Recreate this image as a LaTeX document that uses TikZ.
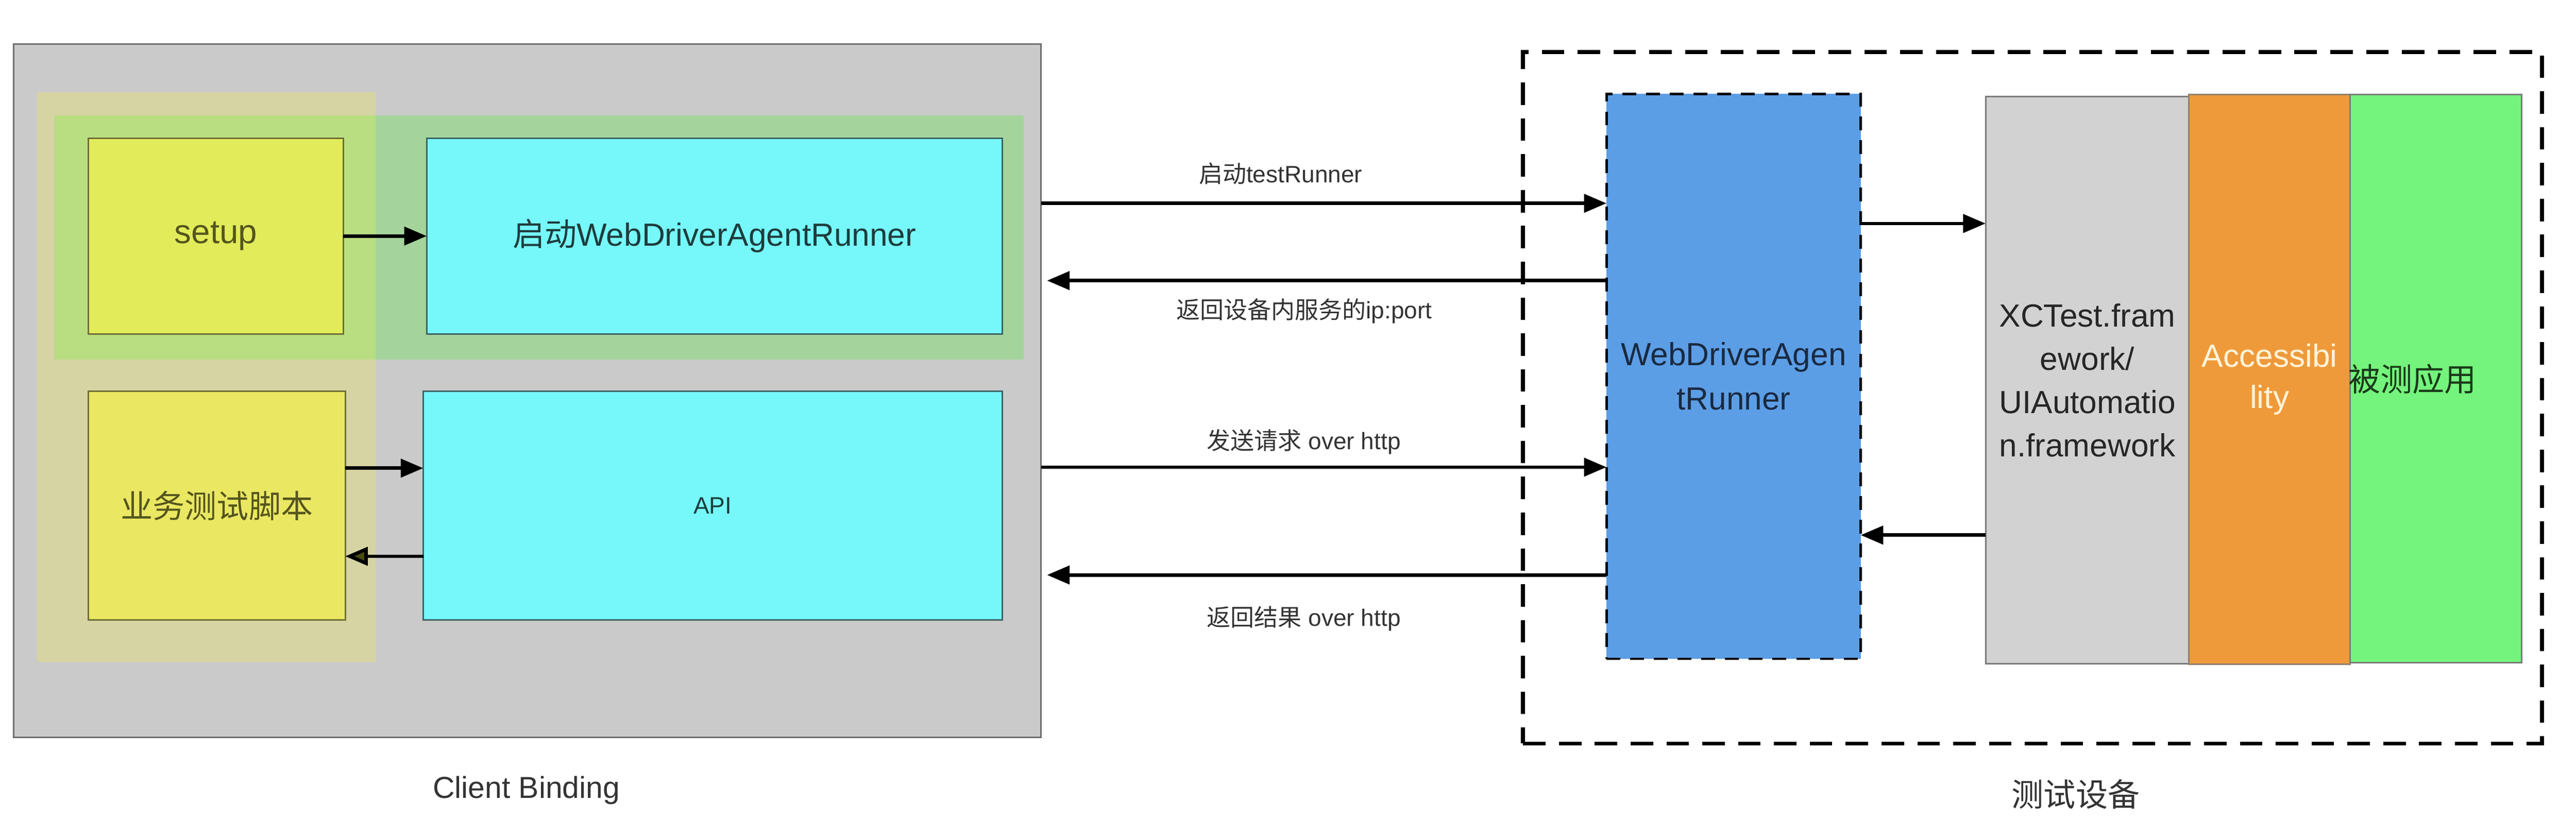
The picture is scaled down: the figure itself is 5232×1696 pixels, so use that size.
\documentclass[tikz,border=0pt]{standalone}
\usepackage{fontspec}
\setmainfont{Liberation Sans}
\newfontfamily\cjk{Noto Sans CJK SC}
\usetikzlibrary{arrows.meta}
\definecolor{clientgray}{HTML}{CACACA}
\definecolor{clientborder}{HTML}{6E6E6E}
\definecolor{yellowov}{HTML}{D6D4A2}
\definecolor{greenov}{HTML}{A4D49C}
\definecolor{overlapov}{HTML}{B9DE81}
\definecolor{setupfill}{HTML}{E2EC5A}
\definecolor{scriptfill}{HTML}{EAE862}
\definecolor{yborder}{HTML}{6E6E35}
\definecolor{ytext}{HTML}{55551E}
\definecolor{cyanfill}{HTML}{76F8FB}
\definecolor{cyanborder}{HTML}{3E6363}
\definecolor{cyantext}{HTML}{1E3C3C}
\definecolor{bluefill}{HTML}{5C9EE6}
\definecolor{bluetext}{HTML}{1A2A40}
\definecolor{xcgray}{HTML}{D2D2D2}
\definecolor{xcborder}{HTML}{7A7A7A}
\definecolor{orangefill}{HTML}{EF9A3A}
\definecolor{acctext}{HTML}{FFF4DA}
\definecolor{appgreen}{HTML}{74F47C}
\definecolor{apptext}{HTML}{1A3A1A}
\definecolor{labelgray}{HTML}{333333}
\definecolor{olivehead}{HTML}{4A4A10}
\begin{document}
\begin{tikzpicture}[x=0.01cm,y=-0.01cm,
  box/.style={draw, inner sep=0pt, outer sep=0pt, line width=0.9pt, align=center},
  patch/.style={inner sep=0pt, outer sep=0pt, draw=none},
  arr/.style={line width=2pt, -{Triangle[length=13pt,width=10.5pt]}},
  lbl/.style={font=\fontsize{13.7}{16}\selectfont, text=labelgray, inner sep=0pt},
  bigtext/.style={font=\fontsize{18.5}{25.5}\selectfont},
  captext/.style={font=\fontsize{17.5}{20}\selectfont, text=labelgray, inner sep=0pt}]
\useasboundingbox (0,0) rectangle (5232,1696);

% client binding area
\node[box, draw=clientborder, fill=clientgray, minimum width=20.86cm, minimum height=14.07cm] (client) at (1071,793.5) {};
\node[patch, fill=yellowov, minimum width=6.87cm, minimum height=11.56cm] (yov) at (419.5,766) {};
\node[patch, fill=greenov, minimum width=19.67cm, minimum height=4.95cm] (gov) at (1095.5,482.5) {};
\node[patch, fill=overlapov, minimum width=6.51cm, minimum height=4.95cm] (ov) at (437.5,482.5) {};

\node[box, draw=yborder, fill=setupfill, text=ytext, font=\fontsize{19.5}{24}\selectfont,
  minimum width=5.17cm, minimum height=3.97cm] (setup) at (438.5,479.5) {setup};
\node[box, draw=cyanborder, fill=cyanfill, text=cyantext, bigtext,
  minimum width=11.68cm, minimum height=3.97cm] (start) at (1451,479.5) {{\cjk 启动}WebDriverAgentRunner};
\node[box, draw=yborder, fill=scriptfill, text=ytext, bigtext,
  minimum width=5.21cm, minimum height=4.64cm] (script) at (440.5,1027) {{\cjk 业务测试脚本}};
\node[box, draw=cyanborder, fill=cyanfill, text=cyantext, font=\fontsize{13.7}{16}\selectfont,
  minimum width=11.75cm, minimum height=4.64cm] (api) at (1447.5,1027) {API};

\node[captext] (clientlbl) at (1069,1605) {Client Binding};

% device area
\node[draw, line width=2.3pt, dash pattern=on 13pt off 7.7pt, inner sep=0pt, outer sep=0pt,
  minimum width=20.68cm, minimum height=14.04cm] (device) at (4128,808) {};
\node[box, fill=bluefill, text=bluetext, bigtext, line width=1.4pt, dash pattern=on 8pt off 5.7pt,
  minimum width=5.16cm, minimum height=11.47cm] (wda) at (3521,764.5) {WebDriverAgen\\tRunner};
\node[box, draw=xcborder, fill=xcgray, text=black!85, font=\fontsize{18.5}{25}\selectfont,
  minimum width=4.13cm, minimum height=11.51cm] (xc) at (4239.5,772.5) {XCTest.fram\\ework/\\UIAutomatio\\n.framework};
\node[box, draw=xcborder!80!orangefill, fill=orangefill, text=acctext, font=\fontsize{18.5}{24}\selectfont,
  minimum width=3.27cm, minimum height=11.57cm] (acc) at (4609.5,770.5) {Accessibi\\lity};
\node[box, draw=xcborder, fill=appgreen, minimum width=3.48cm, minimum height=11.54cm] (app) at (4947,769) {};
\node[text=apptext, bigtext, inner sep=0pt] (apptxt) at (4900,770) {{\cjk 被测应用}};

\node[captext, font=\fontsize{18.5}{20}\selectfont] (devicelbl) at (4216,1613) {{\cjk 测试设备}};

% connectors inside client
\draw[arr] (setup.east) -- (start.west);
\draw[arr] (script.east |- 0,951) -- (api.west |- 0,951);
\draw[line width=2pt, -{Triangle[length=13pt,width=10.5pt,fill=olivehead]}] (api.west |- 0,1130) -- (script.east |- 0,1130);

% connectors between client and device
\draw[arr] (client.east |- 0,413) -- (wda.west |- 0,413);
\draw[arr] (wda.west |- 0,570) -- ([xshift=0.12cm]client.east |- 0,570);
\draw[arr] (client.east |- 0,949) -- (wda.west |- 0,949);
\draw[arr] (wda.west |- 0,1168) -- ([xshift=0.12cm]client.east |- 0,1168);

\node[lbl] (l1) at (2601,353) {{\cjk 启动}testRunner};
\node[lbl] (l2) at (2649,632) {{\cjk 返回设备内服务的}ip:port};
\node[lbl] (l3) at (2648,898) {{\cjk 发送请求} over http};
\node[lbl] (l4) at (2648,1257) {{\cjk 返回结果} over http};

% connectors inside device
\draw[arr] (wda.east |- 0,454) -- (xc.west |- 0,454);
\draw[arr] (xc.west |- 0,1087) -- (wda.east |- 0,1087);
\end{tikzpicture}
\end{document}
